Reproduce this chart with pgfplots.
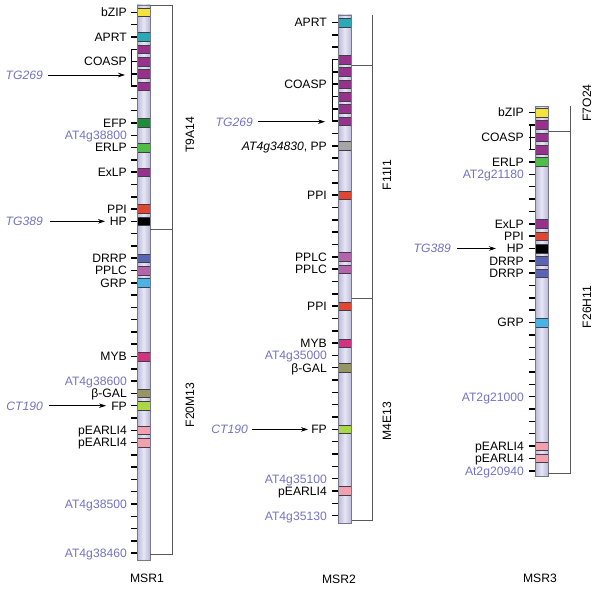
\documentclass[border=0pt]{standalone}
\usepackage{pgfplots}
\usepackage{pgfplotstable}
\pgfplotsset{compat=1.18}
\usepackage{fontspec}
\setmainfont{Liberation Sans}
\usetikzlibrary{arrows.meta}
\definecolor{cYel}{RGB}{242,228,60}
\definecolor{cTeal}{RGB}{40,170,185}
\definecolor{cPur}{RGB}{150,50,140}
\definecolor{cDkG}{RGB}{30,140,60}
\definecolor{cLtG}{RGB}{80,190,70}
\definecolor{cRed}{RGB}{225,70,50}
\definecolor{cDRRP}{RGB}{90,100,180}
\definecolor{cPPLC}{RGB}{180,100,170}
\definecolor{cGRP}{RGB}{70,180,230}
\definecolor{cMYB}{RGB}{210,50,130}
\definecolor{cOli}{RGB}{150,150,100}
\definecolor{cFP}{RGB}{170,215,70}
\definecolor{cPink}{RGB}{240,160,175}
\definecolor{cGray}{RGB}{165,165,165}
\definecolor{cBlue}{RGB}{115,115,195}
\definecolor{barL}{RGB}{230,230,246}
\definecolor{barD}{RGB}{185,185,215}
\definecolor{barE}{RGB}{120,120,140}
\definecolor{bandedge}{RGB}{70,60,70}
\definecolor{bac}{RGB}{90,90,90}
\tikzset{lab/.style={anchor=base east, yshift=-4.3bp, inner sep=0pt, font=\fontsize{12.2}{13}\selectfont},
         blab/.style={lab, text=cBlue},
         tlab/.style={blab, font=\fontsize{12.2}{13}\selectfont\itshape},
         rlab/.style={rotate=90, inner sep=0pt, font=\fontsize{12.2}{13}\selectfont},
         mlab/.style={inner sep=0pt, font=\fontsize{12.2}{13}\selectfont}}
\newcommand{\band}[4]{%
  \pgfmathsetmacro{\bya}{#3-4.3}%
  \pgfmathsetmacro{\byb}{#3+4.3}%
  \edef\bandcmd{\noexpand\addplot[fill=#4, draw=bandedge, line width=0.5bp] coordinates {(#1,\bya) (#2,\bya) (#2,\byb) (#1,\byb)} --cycle;}%
  \bandcmd}
\pgfplotstableread{
x y
134.2 12.4
134.2 24.7
134.2 37.0
134.2 49.3
134.2 61.6
134.2 73.9
134.2 86.1
134.2 98.4
134.2 110.7
134.2 123.0
134.2 135.3
134.2 147.6
134.2 159.9
134.2 172.2
134.2 184.5
134.2 196.8
134.2 209.0
134.2 221.3
134.2 233.6
134.2 245.9
134.2 258.2
134.2 270.5
134.2 282.8
134.2 295.1
134.2 307.4
134.2 319.7
134.2 332.0
134.2 344.2
134.2 356.5
134.2 368.8
134.2 381.1
134.2 393.4
134.2 405.7
134.2 418.0
134.2 430.3
134.2 442.6
134.2 454.8
134.2 467.1
134.2 479.4
134.2 491.7
134.2 504.0
134.2 516.3
134.2 528.6
134.2 540.9
134.2 553.2
}\ticksA
\pgfplotstableread{
x y
335.2 22.5
335.2 34.8
335.2 47.2
335.2 59.5
335.2 71.8
335.2 84.2
335.2 96.5
335.2 108.8
335.2 121.1
335.2 133.5
335.2 145.8
335.2 158.1
335.2 170.5
335.2 182.8
335.2 195.1
335.2 207.5
335.2 219.8
335.2 232.1
335.2 244.4
335.2 256.8
335.2 269.1
335.2 281.4
335.2 293.8
335.2 306.1
335.2 318.4
335.2 330.8
335.2 343.1
335.2 355.4
335.2 367.7
335.2 380.1
335.2 392.4
335.2 404.7
335.2 417.1
335.2 429.4
335.2 441.7
335.2 454.1
335.2 466.4
335.2 478.7
335.2 491.0
335.2 503.4
335.2 515.7
}\ticksB
\pgfplotstableread{
x y
532.2 112.6
532.2 125.0
532.2 137.3
532.2 149.7
532.2 162.0
532.2 174.4
532.2 186.7
532.2 199.1
532.2 211.4
532.2 223.8
532.2 236.1
532.2 248.5
532.2 260.8
532.2 273.2
532.2 285.5
532.2 297.9
532.2 310.2
532.2 322.6
532.2 334.9
532.2 347.3
532.2 359.6
532.2 372.0
532.2 384.3
532.2 396.7
532.2 409.0
532.2 421.4
532.2 433.7
532.2 446.1
532.2 458.4
532.2 470.8
}\ticksC
\begin{document}
\begin{tikzpicture}
\begin{axis}[width=600bp, height=595bp, scale only axis, xmin=0, xmax=600, ymin=0, ymax=595,
  y dir=reverse, hide axis, clip=false]
% tick marks
\addplot[only marks, mark=-, mark size=3bp, line width=1.5bp, black] table[x=x, y=y] {\ticksA};
\addplot[only marks, mark=-, mark size=3bp, line width=1.5bp, black] table[x=x, y=y] {\ticksB};
\addplot[only marks, mark=-, mark size=3bp, line width=1.5bp, black] table[x=x, y=y] {\ticksC};
% chromosome bars
\addplot[draw=none, left color=barD, right color=barD, middle color=barL] coordinates {(137,5) (150,5) (150,560) (137,560)} --cycle;
\addplot[draw=none, left color=barD, right color=barD, middle color=barL] coordinates {(338,15) (351.5,15) (351.5,523) (338,523)} --cycle;
\addplot[draw=none, left color=barD, right color=barD, middle color=barL] coordinates {(535,106.5) (548,106.5) (548,476) (535,476)} --cycle;
% MSR1 bands
\band{137}{150}{12.4}{cYel}
\band{137}{150}{37.0}{cTeal}
\band{137}{150}{49.3}{cPur}
\band{137}{150}{61.6}{cPur}
\band{137}{150}{73.9}{cPur}
\band{137}{150}{86.1}{cPur}
\band{137}{150}{123.0}{cDkG}
\band{137}{150}{147.6}{cLtG}
\band{137}{150}{172.2}{cPur}
\band{137}{150}{209.0}{cRed}
\band{137}{150}{221.3}{black}
\band{137}{150}{258.2}{cDRRP}
\band{137}{150}{270.5}{cPPLC}
\band{137}{150}{282.8}{cGRP}
\band{137}{150}{356.5}{cMYB}
\band{137}{150}{393.4}{cOli}
\band{137}{150}{405.7}{cFP}
\band{137}{150}{430.3}{cPink}
\band{137}{150}{442.6}{cPink}
% MSR2 bands
\band{338}{351.5}{22.5}{cTeal}
\band{338}{351.5}{59.5}{cPur}
\band{338}{351.5}{71.8}{cPur}
\band{338}{351.5}{84.2}{cPur}
\band{338}{351.5}{96.5}{cPur}
\band{338}{351.5}{108.8}{cPur}
\band{338}{351.5}{121.1}{cPur}
\band{338}{351.5}{145.8}{cGray}
\band{338}{351.5}{195.1}{cRed}
\band{338}{351.5}{256.8}{cPPLC}
\band{338}{351.5}{269.1}{cPPLC}
\band{338}{351.5}{306.1}{cRed}
\band{338}{351.5}{343.1}{cMYB}
\band{338}{351.5}{367.7}{cOli}
\band{338}{351.5}{429.4}{cFP}
\band{338}{351.5}{491.0}{cPink}
% MSR3 bands
\band{535}{548}{112.6}{cYel}
\band{535}{548}{125.0}{cPur}
\band{535}{548}{137.3}{cPur}
\band{535}{548}{149.7}{cPur}
\band{535}{548}{162.0}{cLtG}
\band{535}{548}{223.8}{cPur}
\band{535}{548}{236.1}{cRed}
\band{535}{548}{248.5}{black}
\band{535}{548}{260.8}{cDRRP}
\band{535}{548}{273.2}{cDRRP}
\band{535}{548}{322.6}{cGRP}
\band{535}{548}{446.1}{cPink}
\band{535}{548}{458.4}{cPink}
% bar outlines
\addplot[draw=barE, line width=0.9bp] coordinates {(137,5) (150,5) (150,560) (137,560)} --cycle;
\addplot[draw=barE, line width=0.9bp] coordinates {(338,15) (351.5,15) (351.5,523) (338,523)} --cycle;
\addplot[draw=barE, line width=0.9bp] coordinates {(535,106.5) (548,106.5) (548,476) (535,476)} --cycle;
% brackets
\addplot[black, line width=0.7bp] coordinates {(137,49.3) (131,49.3) (131,86.1) (137,86.1)};
\addplot[black, line width=0.7bp] coordinates {(338,59.5) (332.5,59.5) (332.5,121.1) (338,121.1)};
\addplot[black, line width=0.7bp] coordinates {(535,125.0) (530,125.0) (530,149.7) (535,149.7)};
% BAC contig lines
\addplot[bac, line width=0.8bp] coordinates {(150,5) (172,5) (172,554) (150,554)};
\addplot[bac, line width=0.8bp] coordinates {(150,229) (172,229)};
\addplot[bac, line width=0.8bp] coordinates {(372,15) (372,520) (351.5,520)};
\addplot[bac, line width=0.8bp] coordinates {(351.5,65) (372,65)};
\addplot[bac, line width=0.8bp] coordinates {(351.5,298) (372,298)};
\addplot[bac, line width=0.8bp] coordinates {(570,106) (570,473) (548,473)};
\addplot[bac, line width=0.8bp] coordinates {(548,131.7) (570,131.7)};
% arrows
\addplot[black, line width=0.7bp, -{Stealth[length=7bp,width=4.5bp]}] coordinates {(48,75) (125,75)};
\addplot[black, line width=0.7bp, -{Stealth[length=7bp,width=4.5bp]}] coordinates {(50,221.3) (105,221.3)};
\addplot[black, line width=0.7bp, -{Stealth[length=7bp,width=4.5bp]}] coordinates {(49,405.7) (106,405.7)};
\addplot[black, line width=0.7bp, -{Stealth[length=7bp,width=4.5bp]}] coordinates {(258,121.7) (325,121.7)};
\addplot[black, line width=0.7bp, -{Stealth[length=7bp,width=4.5bp]}] coordinates {(252,429.4) (308,429.4)};
\addplot[black, line width=0.7bp, -{Stealth[length=7bp,width=4.5bp]}] coordinates {(457,248.5) (496,248.5)};
% MSR1 labels
\node[lab] at (axis cs:127,12.4) {bZIP};
\node[lab] at (axis cs:127,37.0) {APRT};
\node[lab] at (axis cs:127,61.6) {COASP};
\node[lab] at (axis cs:127,123.0) {EFP};
\node[blab] at (axis cs:127,135.3) {AT4g38800};
\node[lab] at (axis cs:127,147.6) {ERLP};
\node[lab] at (axis cs:127,172.2) {ExLP};
\node[lab] at (axis cs:127,209.0) {PPI};
\node[lab] at (axis cs:127,221.3) {HP};
\node[lab] at (axis cs:127,258.2) {DRRP};
\node[lab] at (axis cs:127,270.5) {PPLC};
\node[lab] at (axis cs:127,282.8) {GRP};
\node[lab] at (axis cs:127,356.5) {MYB};
\node[blab] at (axis cs:127,381.1) {AT4g38600};
\node[lab] at (axis cs:127,393.4) {β-GAL};
\node[lab] at (axis cs:127,405.7) {FP};
\node[lab] at (axis cs:127,430.3) {pEARLI4};
\node[lab] at (axis cs:127,442.6) {pEARLI4};
\node[blab] at (axis cs:127,504.0) {AT4g38500};
\node[blab] at (axis cs:127,553.2) {AT4g38460};
\node[tlab] at (axis cs:43,75) {TG269};
\node[tlab] at (axis cs:43,221.3) {TG389};
\node[tlab] at (axis cs:43,405.7) {CT190};
\node[rlab] at (axis cs:190,135) {T9A14};
\node[rlab] at (axis cs:190,405) {F20M13};
\node[mlab] at (axis cs:147,578) {MSR1};
% MSR2 labels
\node[lab] at (axis cs:327,22.5) {APRT};
\node[lab] at (axis cs:327,84.2) {COASP};
\node[lab] at (axis cs:327,145.8) {\itshape AT4g34830\upshape, PP};
\node[lab] at (axis cs:327,195.1) {PPI};
\node[lab] at (axis cs:327,256.8) {PPLC};
\node[lab] at (axis cs:327,269.1) {PPLC};
\node[lab] at (axis cs:327,306.1) {PPI};
\node[lab] at (axis cs:327,343.1) {MYB};
\node[blab] at (axis cs:327,355.4) {AT4g35000};
\node[lab] at (axis cs:327,367.7) {β-GAL};
\node[lab] at (axis cs:327,429.4) {FP};
\node[blab] at (axis cs:327,478.7) {AT4g35100};
\node[lab] at (axis cs:327,491.0) {pEARLI4};
\node[blab] at (axis cs:327,515.7) {AT4g35130};
\node[tlab] at (axis cs:253,121.7) {TG269};
\node[tlab] at (axis cs:248,429.4) {CT190};
\node[rlab] at (axis cs:387,175) {F11I1};
\node[rlab] at (axis cs:387,421) {M4E13};
\node[mlab] at (axis cs:339,579) {MSR2};
% MSR3 labels
\node[lab] at (axis cs:524,112.6) {bZIP};
\node[lab] at (axis cs:524,137.3) {COASP};
\node[lab] at (axis cs:524,162.0) {ERLP};
\node[blab] at (axis cs:524,174.4) {AT2g21180};
\node[lab] at (axis cs:524,223.8) {ExLP};
\node[lab] at (axis cs:524,236.1) {PPI};
\node[lab] at (axis cs:524,248.5) {HP};
\node[lab] at (axis cs:524,260.8) {DRRP};
\node[lab] at (axis cs:524,273.2) {DRRP};
\node[lab] at (axis cs:524,322.6) {GRP};
\node[blab] at (axis cs:524,396.7) {AT2g21000};
\node[lab] at (axis cs:524,446.1) {pEARLI4};
\node[lab] at (axis cs:524,458.4) {pEARLI4};
\node[blab] at (axis cs:524,470.8) {At2g20940};
\node[tlab] at (axis cs:451,248.5) {TG389};
\node[rlab] at (axis cs:587,103) {F7O24};
\node[rlab] at (axis cs:587,307) {F26H11};
\node[mlab] at (axis cs:540,578) {MSR3};
\end{axis}
\path (current axis.south west) rectangle (current axis.north east);
\end{tikzpicture}
\end{document}
